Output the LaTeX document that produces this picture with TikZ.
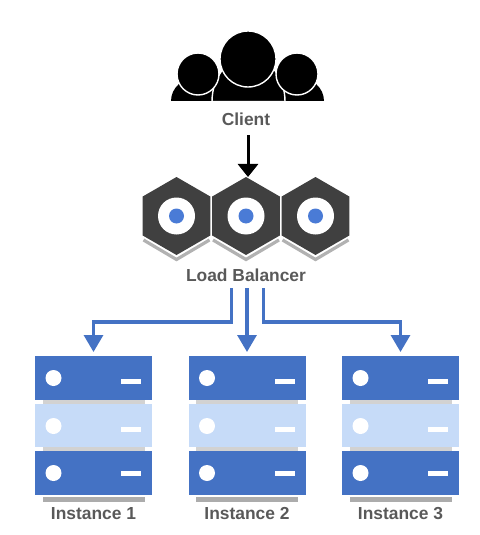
\documentclass[tikz,border=0pt]{standalone}
\usepackage{fontspec}
\setmainfont{Liberation Sans}
\usetikzlibrary{shapes.geometric,arrows.meta}
\definecolor{rackblue}{HTML}{4472C4}
\definecolor{racklight}{HTML}{C6DBF8}
\definecolor{hubgray}{HTML}{404040}
\definecolor{hubdot}{HTML}{4A7BD6}
\definecolor{labelgray}{HTML}{595959}
\tikzset{
    caption/.style={font=\fontsize{8.7}{10}\selectfont\bfseries, text=labelgray, inner sep=0pt},
    hub/.style={regular polygon, regular polygon sides=6, shape border rotate=30, fill=hubgray, minimum size=39pt, inner sep=0pt, outer sep=0pt},
    rack/.style={rectangle, minimum width=58.5pt, minimum height=22pt, inner sep=0pt, outer sep=0pt},
    person/.style={fill=black, draw=white, line width=0.7pt},
    flow/.style={rackblue, line width=1.6pt, -{Triangle[length=8.5pt,width=9.5pt]}},
    feed/.style={black, line width=1.5pt, -{Triangle[length=6.5pt,width=10pt]}}
}
\begin{document}
\begin{tikzpicture}[x=0.5pt,y=-0.5pt]
            \useasboundingbox (0,0) rectangle (480,535);

            \fill[black] (171,101) arc[start angle=180, end angle=360, x radius=27, y radius=24] -- cycle;
            \fill[black] (270,101) arc[start angle=180, end angle=360, x radius=27, y radius=24] -- cycle;
            \draw[person] (212,101.5) arc[start angle=180, end angle=360, x radius=36.5, y radius=45] -- cycle;
            \draw[person] (198,74) circle[radius=21];
            \draw[person] (297,74) circle[radius=21];
            \draw[person] (248,59) circle[radius=28];

            \node[caption] (client) at (246,119) {Client};
            \node[caption] (balancer) at (246,275) {Load Balancer};

            \foreach \n/\cx in {1/176.5,2/246,3/315.5} {
                \draw[gray!60, line width=1.6pt] (\cx-33,240) -- (\cx,259.5) -- (\cx+33,240);
                \node[hub] (hub\n) at (\cx,216) {};
                \fill[white] (hub\n) circle[radius=18.5];
                \fill[hubdot] (hub\n) circle[radius=7.5];
            }

            \foreach \n/\cx in {1/93.5,2/247,3/400.5} {
                \fill[gray!35] (\cx-51,400) rectangle (\cx+51,404);
                \fill[gray!35] (\cx-51,447) rectangle (\cx+51,451);
                \fill[gray!65] (\cx-51,497) rectangle (\cx+51,502);
                \node[rack, fill=rackblue] (top\n) at (\cx,378) {};
                \node[rack, fill=racklight, minimum height=21.5pt] (mid\n) at (\cx,425.5) {};
                \node[rack, fill=rackblue] (low\n) at (\cx,473) {};
                \foreach \y/\d in {378/381,426/429,473/473} {
                    \fill[white] (\cx-40,\y) circle[radius=8];
                    \fill[white] (\cx+27.5,\d-2.5) rectangle (\cx+47.5,\d+2.5);
                }
                \node[caption] (label\n) at (\cx,514) {Instance \n};
            }

            \coordinate (clientout) at (248,135);
            \coordinate (leftout) at (231.5,288);
            \coordinate (midout) at (247,288);
            \coordinate (rightout) at (263.5,288);

            \draw[feed] (clientout) -- (clientout |- hub2.north);
            \draw[flow, shorten >=2pt] (leftout) -- (231.5,322) -| (top1.north);
            \draw[flow, shorten >=2pt] (midout) -- (top2.north);
            \draw[flow, shorten >=2pt] (rightout) -- (263.5,322) -| (top3.north);
        \end{tikzpicture}
\end{document}
